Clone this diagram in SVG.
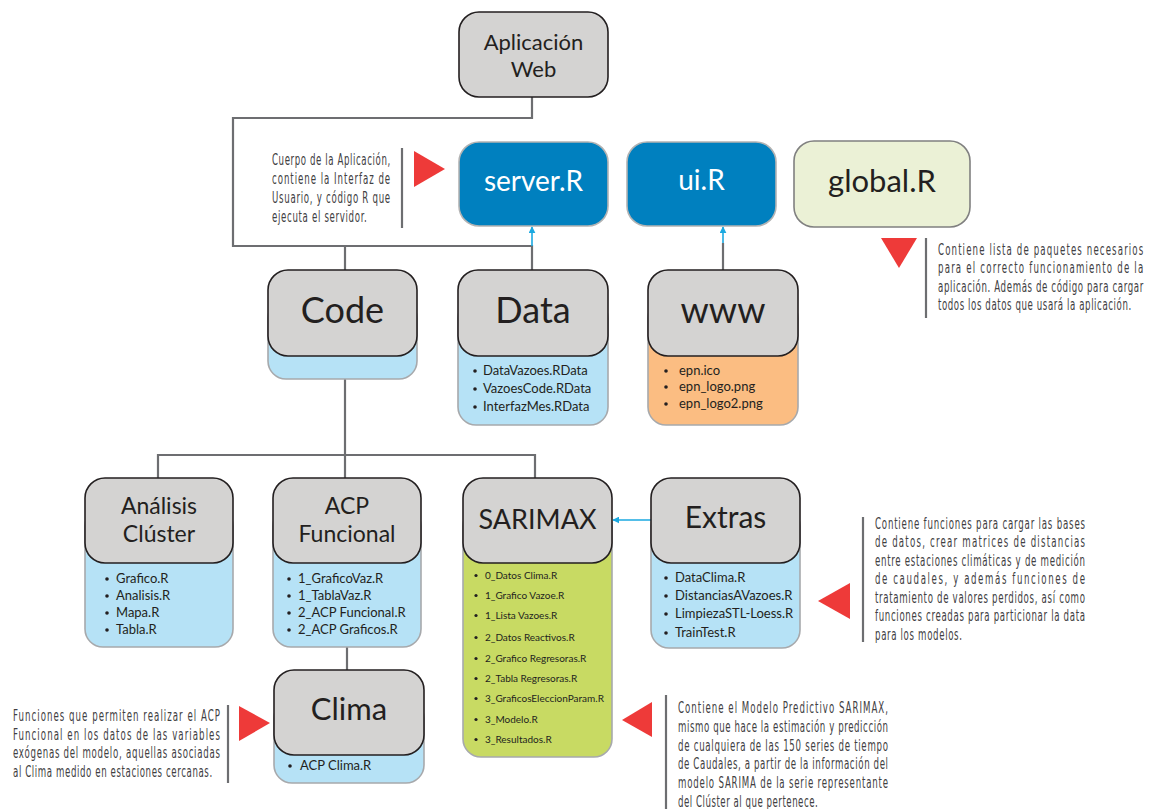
<svg xmlns="http://www.w3.org/2000/svg" width="1151" height="809" viewBox="0 0 1151 809">
<style>
.hdr{fill:#d4d3d2;stroke:#231f20;stroke-width:1.6}
.lst{fill:#b6e2f6;stroke:#a7a9ac;stroke-width:1.6}
.org{fill:#fbbd82;stroke:#a7a9ac;stroke-width:1.6}
.grn{fill:#c8da63;stroke:#a7a9ac;stroke-width:1.6}
.blu{fill:#0080bf;stroke:#b3b3b3;stroke-width:1.6}
.glb{fill:#ebf1d6;stroke:#808080;stroke-width:1.6}
.t{font-family:Lato,"Open Sans",sans-serif;fill:#231f20;text-anchor:middle}
.tw{font-family:Lato,"Open Sans",sans-serif;fill:#ffffff;text-anchor:middle}
.li{font-family:Lato,"Open Sans",sans-serif;fill:#231f20;font-size:13px}
.ls{font-family:Lato,"Open Sans",sans-serif;fill:#231f20;font-size:10px}
.bul{fill:#231f20}
.con{fill:none;stroke:#6d6e71;stroke-width:2.2}
.cy{fill:none;stroke:#1ba9e1;stroke-width:1.6}
.note{font-family:"DejaVu Sans Condensed","DejaVu Sans",sans-serif;font-stretch:condensed;font-size:16px;fill:#414042}
.tri{fill:#ee3a39}
.bar{stroke:#6d6e71;stroke-width:2.2}
</style>
<defs>
<marker id="ah" viewBox="0 0 10 10" refX="9" refY="5" markerWidth="7" markerHeight="7" orient="auto" markerUnits="userSpaceOnUse">
<path d="M0,0 L10,5 L0,10 z" fill="#1ba9e1"/>
</marker>
</defs>

<g id="connectors">
<path class="con" d="M532,97 V118 H233 V246 H532 V270"/>
<path class="con" d="M345,246 V270"/>
<path class="cy" d="M532,246 V227" marker-end="url(#ah)"/>
<path class="con" d="M723,270 V243"/>
<path class="cy" d="M723,243 V227" marker-end="url(#ah)"/>
<path class="con" d="M345,379 V455"/>
<path class="con" d="M158,478 V455 H535 V478"/>
<path class="con" d="M345,455 V478"/>
<path class="cy" d="M651,520 H613" marker-end="url(#ah)"/>
<path class="con" d="M347,647 V670"/>
</g>

<g id="app-web">
<rect class="hdr" x="459" y="12" width="149" height="85" rx="20"/>
<text class="t" x="533.5" y="50" font-size="22">Aplicación</text>
<text class="t" x="533.5" y="77" font-size="22">Web</text>
</g>

<g id="server-r">
<rect class="blu" x="459" y="142" width="149" height="84" rx="20"/>
<text class="tw" x="533.5" y="191" font-size="28">server.R</text>
</g>

<g id="ui-r">
<rect class="blu" x="627" y="142" width="149" height="84" rx="20"/>
<text class="tw" x="701.5" y="190" font-size="28">ui.R</text>
</g>

<g id="global-r">
<rect class="glb" x="794" y="141" width="176" height="86" rx="20"/>
<text class="t" x="882" y="192" font-size="31">global.R</text>
</g>

<g id="code">
<rect class="lst" x="268" y="300" width="149" height="79" rx="18"/>
<rect class="hdr" x="268" y="270" width="149" height="86" rx="20"/>
<text class="t" x="342.5" y="323" font-size="36">Code</text>
</g>

<g id="data">
<rect class="lst" x="458" y="300" width="150" height="125" rx="18"/>
<rect class="hdr" x="458" y="270" width="150" height="86" rx="20"/>
<text class="t" x="533" y="323" font-size="36">Data</text>
<circle class="bul" cx="475" cy="371" r="1.8"/><text class="li" x="483" y="375">DataVazoes.RData</text>
<circle class="bul" cx="475" cy="389" r="1.8"/><text class="li" x="483" y="393">VazoesCode.RData</text>
<circle class="bul" cx="475" cy="407" r="1.8"/><text class="li" x="483" y="411">InterfazMes.RData</text>
</g>

<g id="www">
<rect class="org" x="648" y="300" width="150" height="125" rx="18"/>
<rect class="hdr" x="648" y="270" width="150" height="86" rx="20"/>
<text class="t" x="723" y="323" font-size="36">www</text>
<circle class="bul" cx="666" cy="371" r="1.8"/><text class="li" x="679" y="375">epn.ico</text>
<circle class="bul" cx="666" cy="387" r="1.8"/><text class="li" x="679" y="391">epn_logo.png</text>
<circle class="bul" cx="666" cy="404" r="1.8"/><text class="li" x="679" y="408">epn_logo2.png</text>
</g>

<g id="analisis-cluster">
<rect class="lst" x="85" y="508" width="148" height="139" rx="18"/>
<rect class="hdr" x="85" y="478" width="148" height="85" rx="20"/>
<text class="t" x="159" y="514" font-size="23">Análisis</text>
<text class="t" x="159" y="542" font-size="23">Clúster</text>
<circle class="bul" cx="107" cy="579" r="1.8"/><text class="li" x="116" y="583">Grafico.R</text>
<circle class="bul" cx="107" cy="596" r="1.8"/><text class="li" x="116" y="600">Analisis.R</text>
<circle class="bul" cx="107" cy="613" r="1.8"/><text class="li" x="116" y="617">Mapa.R</text>
<circle class="bul" cx="107" cy="630" r="1.8"/><text class="li" x="116" y="634">Tabla.R</text>
</g>

<g id="acp-funcional">
<rect class="lst" x="273" y="508" width="148" height="139" rx="18"/>
<rect class="hdr" x="273" y="478" width="148" height="85" rx="20"/>
<text class="t" x="347" y="514" font-size="23">ACP</text>
<text class="t" x="347" y="542" font-size="23">Funcional</text>
<circle class="bul" cx="289" cy="579" r="1.8"/><text class="li" x="298" y="583">1_GraficoVaz.R</text>
<circle class="bul" cx="289" cy="596" r="1.8"/><text class="li" x="298" y="600">1_TablaVaz.R</text>
<circle class="bul" cx="289" cy="613" r="1.8"/><text class="li" x="298" y="617">2_ACP Funcional.R</text>
<circle class="bul" cx="289" cy="630" r="1.8"/><text class="li" x="298" y="634">2_ACP Graficos.R</text>
</g>

<g id="sarimax">
<rect class="grn" x="463" y="508" width="149" height="249" rx="18"/>
<rect class="hdr" x="463" y="478" width="149" height="85" rx="20"/>
<text class="t" x="537.5" y="529" font-size="27">SARIMAX</text>
<circle class="bul" cx="476" cy="575.5" r="1.6"/><text class="ls" x="485" y="579">0_Datos Clima.R</text>
<circle class="bul" cx="476" cy="595.5" r="1.6"/><text class="ls" x="485" y="599">1_Grafico Vazoe.R</text>
<circle class="bul" cx="476" cy="615.5" r="1.6"/><text class="ls" x="485" y="619">1_Lista Vazoes.R</text>
<circle class="bul" cx="476" cy="637.5" r="1.6"/><text class="ls" x="485" y="641">2_Datos Reactivos.R</text>
<circle class="bul" cx="476" cy="658.5" r="1.6"/><text class="ls" x="485" y="662">2_Grafico Regresoras.R</text>
<circle class="bul" cx="476" cy="678.5" r="1.6"/><text class="ls" x="485" y="682">2_Tabla Regresoras.R</text>
<circle class="bul" cx="476" cy="698.5" r="1.6"/><text class="ls" x="485" y="702">3_GraficosEleccionParam.R</text>
<circle class="bul" cx="476" cy="719.5" r="1.6"/><text class="ls" x="485" y="723">3_Modelo.R</text>
<circle class="bul" cx="476" cy="739.5" r="1.6"/><text class="ls" x="485" y="743">3_Resultados.R</text>
</g>

<g id="extras">
<rect class="lst" x="651" y="508" width="149" height="140" rx="18"/>
<rect class="hdr" x="651" y="478" width="149" height="85" rx="20"/>
<text class="t" x="725.5" y="528" font-size="30">Extras</text>
<circle class="bul" cx="666" cy="578" r="1.8"/><text class="li" x="675" y="582">DataClima.R</text>
<circle class="bul" cx="666" cy="596" r="1.8"/><text class="li" x="675" y="600">DistanciasAVazoes.R</text>
<circle class="bul" cx="666" cy="614" r="1.8"/><text class="li" x="675" y="618">LimpiezaSTL-Loess.R</text>
<circle class="bul" cx="666" cy="633" r="1.8"/><text class="li" x="675" y="637">TrainTest.R</text>
</g>

<g id="clima">
<rect class="lst" x="274" y="700" width="150" height="83" rx="18"/>
<rect class="hdr" x="274" y="670" width="150" height="85" rx="20"/>
<text class="t" x="349" y="720" font-size="31">Clima</text>
<circle class="bul" cx="290" cy="766" r="1.8"/><text class="li" x="300" y="770">ACP Clima.R</text>
</g>

<g id="note-server">
<polygon class="tri" points="414,151 445,169 414,187"/>
<line class="bar" x1="402" y1="148" x2="402" y2="228"/>
<g transform="translate(272,0) scale(0.6,1)">
<text class="note" x="0" y="165" textLength="197" lengthAdjust="spacing">Cuerpo de la Aplicación,</text>
<text class="note" x="0" y="184" textLength="197" lengthAdjust="spacing">contiene la Interfaz de</text>
<text class="note" x="0" y="203" textLength="197" lengthAdjust="spacing">Usuario, y código R que</text>
<text class="note" x="0" y="222" textLength="158" lengthAdjust="spacing">ejecuta el servidor.</text>
</g>
</g>

<g id="note-global">
<polygon class="tri" points="881,238 917,238 899,268"/>
<line class="bar" x1="926" y1="238" x2="926" y2="318"/>
<g transform="translate(938,0) scale(0.6,1)">
<text class="note" x="0" y="255" textLength="342" lengthAdjust="spacing">Contiene lista de paquetes necesarios</text>
<text class="note" x="0" y="273" textLength="342" lengthAdjust="spacing">para el correcto funcionamiento de la</text>
<text class="note" x="0" y="292" textLength="342" lengthAdjust="spacing">aplicación. Además de código para cargar</text>
<text class="note" x="0" y="310" textLength="322" lengthAdjust="spacing">todos los datos que usará la aplicación.</text>
</g>
</g>

<g id="note-extras">
<polygon class="tri" points="850,583 850,619 818,601"/>
<line class="bar" x1="863" y1="517" x2="863" y2="642"/>
<g transform="translate(875,0) scale(0.6,1)">
<text class="note" x="0" y="529" textLength="350" lengthAdjust="spacing">Contiene funciones para cargar las bases</text>
<text class="note" x="0" y="547.5" textLength="350" lengthAdjust="spacing">de datos, crear matrices de distancias</text>
<text class="note" x="0" y="566" textLength="350" lengthAdjust="spacing">entre estaciones climáticas y de medición</text>
<text class="note" x="0" y="584.5" textLength="350" lengthAdjust="spacing">de caudales, y además funciones de</text>
<text class="note" x="0" y="603" textLength="350" lengthAdjust="spacing">tratamiento de valores perdidos, así como</text>
<text class="note" x="0" y="621.5" textLength="350" lengthAdjust="spacing">funciones creadas para particionar la data</text>
<text class="note" x="0" y="640" textLength="145" lengthAdjust="spacing">para los modelos.</text>
</g>
</g>

<g id="note-sarimax">
<polygon class="tri" points="652,702 652,737 622,720"/>
<line class="bar" x1="666" y1="695" x2="666" y2="809"/>
<g transform="translate(678,0) scale(0.6,1)">
<text class="note" x="0" y="713" textLength="350" lengthAdjust="spacing">Contiene el Modelo Predictivo SARIMAX,</text>
<text class="note" x="0" y="732" textLength="350" lengthAdjust="spacing">mismo que hace la estimación y predicción</text>
<text class="note" x="0" y="751" textLength="350" lengthAdjust="spacing">de cualquiera de las 150 series de tiempo</text>
<text class="note" x="0" y="769" textLength="350" lengthAdjust="spacing">de Caudales, a partir de la información del</text>
<text class="note" x="0" y="788" textLength="350" lengthAdjust="spacing">modelo SARIMA de la serie representante</text>
<text class="note" x="0" y="807" textLength="233" lengthAdjust="spacing">del Clúster al que pertenece.</text>
</g>
</g>

<g id="note-clima">
<polygon class="tri" points="239,706 270,723 239,741"/>
<line class="bar" x1="228" y1="705" x2="228" y2="783"/>
<g transform="translate(13,0) scale(0.6,1)">
<text class="note" x="0" y="721" textLength="345" lengthAdjust="spacing">Funciones que permiten realizar el ACP</text>
<text class="note" x="0" y="740" textLength="345" lengthAdjust="spacing">Funcional en los datos de las variables</text>
<text class="note" x="0" y="758" textLength="345" lengthAdjust="spacing">exógenas del modelo, aquellas asociadas</text>
<text class="note" x="0" y="777" textLength="332" lengthAdjust="spacing">al Clima medido en estaciones cercanas.</text>
</g>
</g>
</svg>
